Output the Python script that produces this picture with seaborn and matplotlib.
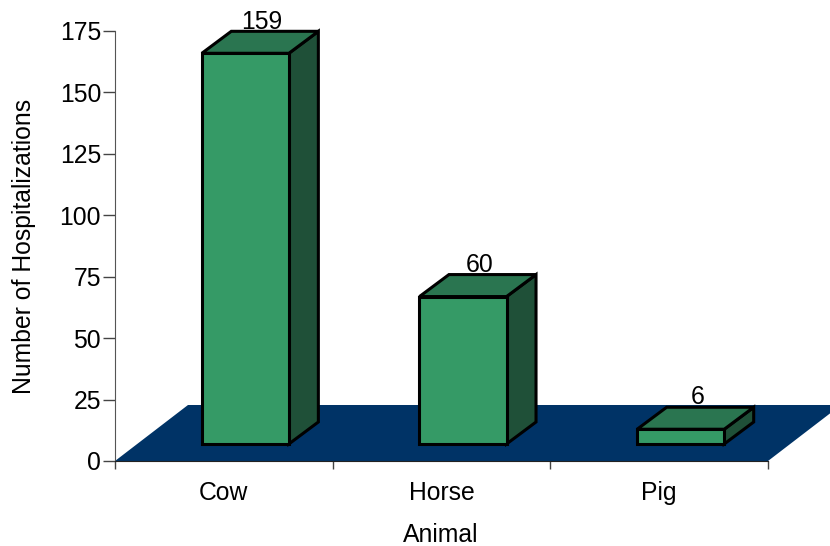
import pandas as pd
import matplotlib
matplotlib.use('Agg')
import matplotlib.pyplot as plt
from matplotlib.patches import Polygon
import seaborn as sns

animals = ['Cow', 'Horse', 'Pig']
hospitalizations = [159, 60, 6]
y_ticks = [0, 25, 50, 75, 100, 125, 150, 175]

sns.set_style('ticks')
plt.rcParams['font.family'] = ['Liberation Sans', 'DejaVu Sans']
font_size = 17.8
edge_width = 2.2

df = pd.DataFrame({'Animal': animals, 'Hospitalizations': hospitalizations})

fig, ax = plt.subplots(figsize=(8.3, 5.46), dpi=100)
fig.subplots_adjust(left=115 / 830, right=768 / 830, top=1 - 31 / 546, bottom=1 - 461 / 546)

sns.barplot(data=df, x='Animal', y='Hospitalizations', color='#359A66', saturation=1,
            width=0.4, edgecolor='black', linewidth=edge_width, ax=ax, zorder=5, clip_on=False)

ax.set_xlim(-0.5, 2.5)
ax.set_ylim(0, 175)

# fake 3d look: depth of the floor and of the bars, in data units
floor_dx = 73 / 217.7
floor_dy = 56 / 2.457
depth_dx = 29.5 / 217.7
depth_dy = 22 / 2.457
shift_x = 21.5 / 217.7
base_y = 17 / 2.457
label_dx = 2 / 217.7

floor = Polygon([(-0.5, 0), (2.5, 0), (2.5 + floor_dx, floor_dy), (-0.5 + floor_dx, floor_dy)],
                facecolor='#003366', edgecolor='none', zorder=1, clip_on=False)
ax.add_patch(floor)

for bar, value in zip(list(ax.patches)[:len(animals)], hospitalizations):
    bar.set_x(bar.get_x() + shift_x)
    bar.set_y(base_y)
    x0 = bar.get_x()
    x1 = x0 + bar.get_width()
    y0 = base_y
    y1 = base_y + bar.get_height()
    side = Polygon([(x1, y0), (x1 + depth_dx, y0 + depth_dy), (x1 + depth_dx, y1 + depth_dy), (x1, y1)],
                   facecolor='#1F5038', edgecolor='black', linewidth=edge_width, zorder=3, clip_on=False)
    top = Polygon([(x0, y1), (x1, y1), (x1 + depth_dx, y1 + depth_dy), (x0 + depth_dx, y1 + depth_dy)],
                  facecolor='#2A7550', edgecolor='black', linewidth=edge_width, zorder=4, clip_on=False)
    ax.add_patch(side)
    ax.add_patch(top)
    ax.text((x0 + x1 + depth_dx) / 2 + label_dx, y1 + depth_dy - 0.9, str(value), ha='center', va='bottom',
            fontsize=font_size, color='black', zorder=6, clip_on=False)

ax.set_yticks(y_ticks)
ax.set_xticks([-0.5, 0.5, 1.5, 2.5])
ax.set_xticklabels([])
ax.set_xticks([0, 1, 2], animals, minor=True)
ax.tick_params(axis='x', which='major', length=6, width=1, color='#444444')
ax.tick_params(axis='x', which='minor', length=0, pad=14.5, labelsize=font_size, labelcolor='black')
ax.tick_params(axis='y', length=9, width=1, color='#444444', labelsize=font_size, labelcolor='black', pad=1)

ax.set_xlabel('Animal', fontsize=font_size, color='black', va='center')
ax.set_ylabel('Number of Hospitalizations', fontsize=font_size, color='black', va='center')
ax.xaxis.set_label_coords(0.499, -0.171)
ax.yaxis.set_label_coords(-0.139, 0.5)

sns.despine(ax=ax)
ax.spines['left'].set_color('#555555')
ax.spines['bottom'].set_color('#222222')
ax.spines['left'].set_zorder(7)
ax.spines['bottom'].set_zorder(7)

fig.savefig('out.png', dpi=100)
plt.close(fig)
